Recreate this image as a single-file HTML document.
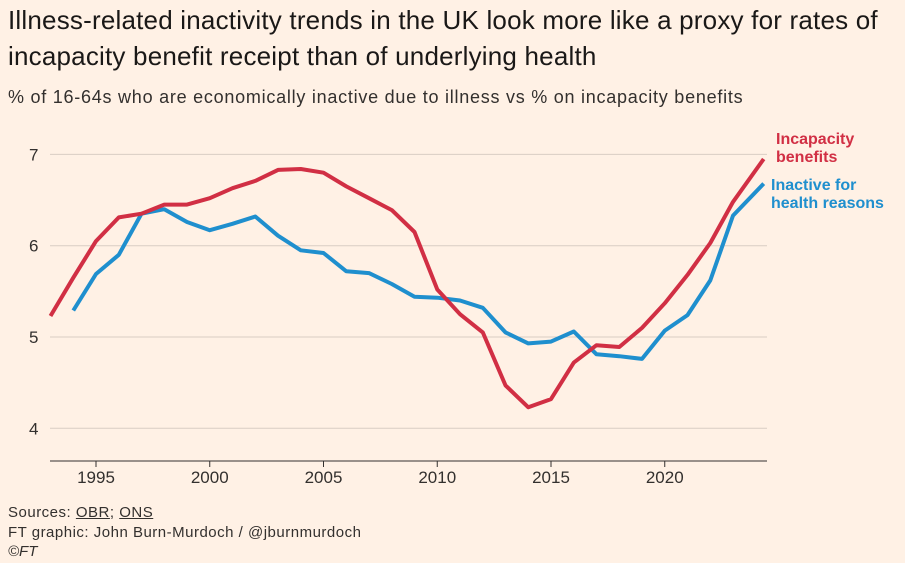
<!DOCTYPE html>
<html><head><meta charset="utf-8">
<style>
body{margin:0;background:#fff1e5;font-family:"Liberation Sans",sans-serif;}
#wrap{position:relative;width:905px;height:563px;overflow:hidden;background:#fff1e5;}
.t{position:absolute;color:#33302e;white-space:nowrap;}
</style></head><body>
<div id="wrap">
<div class="t" style="left:8px;top:2px;font-size:26px;line-height:36px;letter-spacing:0.2px;color:#1a1817;">Illness-related inactivity trends in the UK look more like a proxy for rates of<br>incapacity benefit receipt than of underlying health</div>
<div class="t" style="left:8px;top:87px;font-size:18px;letter-spacing:0.75px;color:#33302e;">% of 16-64s who are economically inactive due to illness vs % on incapacity benefits</div>
<svg id="chart" width="905" height="563" style="position:absolute;left:0;top:0"></svg>
<div class="t" style="left:8px;top:504px;font-size:15px;letter-spacing:0.5px;">Sources: <u>OBR</u>; <u>ONS</u></div>
<div class="t" style="left:8px;top:524px;font-size:15px;letter-spacing:0.5px;">FT graphic: John Burn-Murdoch / @jburnmurdoch</div>
<div class="t" style="left:8px;top:543px;font-size:15px;font-style:italic;">©FT</div>
</div>
<script>
const years=[1993,1994,1995,1996,1997,1998,1999,2000,2001,2002,2003,2004,2005,2006,2007,2008,2009,2010,2011,2012,2013,2014,2015,2016,2017,2018,2019,2020,2021,2022,2023,2024.35];
const incapacity=[5.23,5.65,6.05,6.31,6.35,6.45,6.45,6.52,6.63,6.71,6.83,6.84,6.80,6.65,6.52,6.39,6.15,5.52,5.25,5.05,4.47,4.23,4.32,4.72,4.91,4.89,5.10,5.37,5.68,6.03,6.48,6.95];
const inactive=[null,5.29,5.69,5.90,6.35,6.40,6.26,6.17,6.24,6.32,6.11,5.95,5.92,5.72,5.70,5.58,5.44,5.43,5.40,5.32,5.05,4.93,4.95,5.06,4.81,4.79,4.76,5.07,5.24,5.62,6.33,6.68];
const yTicks=[4,5,6,7];
const xTicks=[1995,2000,2005,2010,2015,2020];
const NS="http://www.w3.org/2000/svg";
const svg=document.getElementById('chart');
const x=v=>96+(v-1995)*22.75;
const y=v=>337-(v-5)*91.3;
function el(t,a){const e=document.createElementNS(NS,t);for(const k in a)e.setAttribute(k,a[k]);svg.appendChild(e);return e;}
yTicks.forEach(v=>{
 const l=el('line',{x1:50,x2:767,y1:y(v),y2:y(v),stroke:'#d9cdc3','stroke-width':1});
 
 
 const t=el('text',{x:29,y:y(v)+6,'font-size':17,fill:'#33302e','font-family':'Liberation Sans, sans-serif'});
 t.textContent=v;
 
 
});
const ax=el('line',{x1:50,x2:767,y1:461,y2:461,stroke:'#33302e','stroke-width':1});


xTicks.forEach(v=>{
 const tk=el('line',{x1:x(v),x2:x(v),y1:461,y2:467,stroke:'#33302e'});
 
 
 const t=el('text',{x:x(v),y:483,'font-size':17,fill:'#33302e','text-anchor':'middle','font-family':'Liberation Sans, sans-serif'});
 t.textContent=v;
 
 
});
function line(vals,color,name){
 let d='';vals.forEach((v,i)=>{if(v==null)return;d+=(d?'L':'M')+x(years[i]).toFixed(1)+','+y(v).toFixed(1);});
 const p=el('path',{d:d,fill:'none',stroke:color,'stroke-width':4,'stroke-linejoin':'round'});
 
 
}
line(inactive,'#1f8fce','inactive-health-line');
line(incapacity,'#d12f44','incapacity-benefits-line');
function lab(lines,xx,yy,color,name){
 const t=el('text',{x:xx,y:yy,'font-size':16,fill:color,'font-weight':'bold','font-family':'Liberation Sans, sans-serif'});
 lines.forEach((s,i)=>{const ts=document.createElementNS(NS,'tspan');ts.setAttribute('x',xx);ts.setAttribute('dy',i?18:0);ts.textContent=s;t.appendChild(ts);});
 
 
}
lab(['Incapacity','benefits'],776,144,'#d12f44','incapacity-benefits-label');
lab(['Inactive for','health reasons'],771,190,'#1f8fce','inactive-health-label');
</script>
</body></html>
